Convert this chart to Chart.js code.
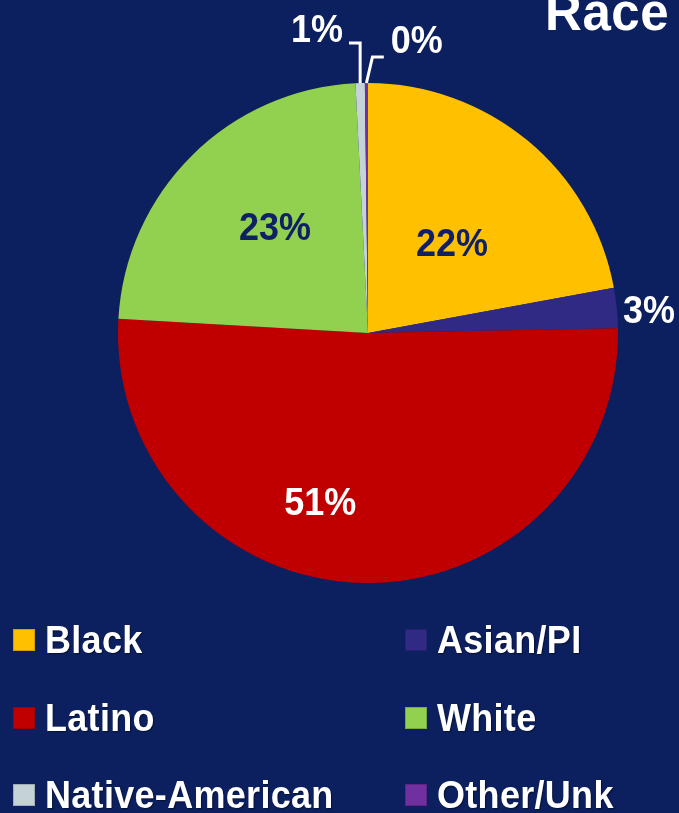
<!DOCTYPE html>
<html>
<head>
<meta charset="utf-8">
<script src="https://cdn.jsdelivr.net/npm/chart.js@4.4.1/dist/chart.umd.min.js"></script>
<style>
  html, body { margin: 0; padding: 0; background: #0c1f5e; overflow: hidden; }
  #wrap { position: relative; width: 679px; height: 813px; }
  #pie { position: absolute; left: 0; top: 0; }
  .title {
    position: absolute; right: 10px; top: -13px;
    font: bold 51px "Liberation Sans", Arial, sans-serif; line-height: 1;
    color: #fff; letter-spacing: 0.5px;
  }
  .key {
    position: absolute; height: 40px; display: flex; align-items: center;
    font: bold 36px "Liberation Sans", Arial, sans-serif; line-height: 1;
    color: #fff; text-shadow: 1px 1px 1px rgba(0,0,0,0.45);
    letter-spacing: 0.3px;
  }
  .key i {
    display: inline-block; width: 22px; height: 22px;
    box-shadow: inset 0 0 0 1px rgba(0,0,0,0.18);
  }
  .key span { margin-left: 10px; display: inline-block; transform: scaleY(1.08); }
</style>
</head>
<body>
<div id="wrap">
  <canvas id="pie" width="679" height="813"></canvas>
  <div class="title">Race</div>
</div>
<script>
// race breakdown, percent of total
const groups = ['Black', 'Asian/PI', 'Latino', 'White', 'Native-American', 'Other/Unk'];
const shares = [22.1, 2.6, 51.2, 23.3, 0.6, 0.2];
const sliceColors = ['#ffc000', '#302a85', '#c00000', '#92d050', '#c5d3d8', '#7030a0'];

const NAVY = '#0f2064';
const WHITE = '#ffffff';

// where each percent label sits: degrees turned past the slice middle,
// distance as a fraction of the outer radius
const labelSpots = [
  { turn: 3.9,  dist: 0.487, color: NAVY },
  { turn: 1.6,  dist: 1.127, color: WHITE },
  { turn: 14.5, dist: 0.712, color: WHITE },
  { turn: 3.0,  dist: 0.558, color: NAVY },
  { turn: -7.8, dist: 1.223, color: WHITE, leader: { dx: 0, dy: 11.5, gap: 6 } },
  { turn: 9.9,  dist: 1.178, color: WHITE, leader: { dx: 6, dy: 14.5, gap: 7 } }
];

const pctLabels = {
  id: 'pctLabels',
  afterDatasetsDraw(chart) {
    const ctx = chart.ctx;
    const arcs = chart.getDatasetMeta(0).data;
    const total = shares.reduce((a, b) => a + b, 0);
    ctx.save();
    ctx.font = 'bold 36px "Liberation Sans", Arial, sans-serif';
    ctx.textAlign = 'center';
    ctx.textBaseline = 'middle';
    arcs.forEach((arc, i) => {
      const spot = labelSpots[i];
      const mid = (arc.startAngle + arc.endAngle) / 2;
      const a = mid + spot.turn * Math.PI / 180;
      const r = arc.outerRadius * spot.dist;
      const x = arc.x + Math.cos(a) * r;
      const y = arc.y + Math.sin(a) * r;
      const text = Math.round(shares[i] / total * 100) + '%';

      if (spot.leader) {
        const L = spot.leader;
        const ex = arc.x + Math.cos(mid) * arc.outerRadius;
        const ey = arc.y + Math.sin(mid) * arc.outerRadius;
        const w = ctx.measureText(text).width;
        const kx = ex + L.dx, ky = y + L.dy;
        const endX = x < ex ? x + w / 2 + L.gap : x - w / 2 - L.gap;
        ctx.beginPath();
        ctx.moveTo(ex, ey);
        ctx.lineTo(kx, ky);
        ctx.lineTo(endX, ky);
        ctx.strokeStyle = WHITE;
        ctx.lineWidth = 3;
        ctx.stroke();
      }

      ctx.save();
      ctx.translate(x, y);
      ctx.scale(1, 1.1);
      ctx.fillStyle = spot.color;
      ctx.fillText(text, 0, 0);
      ctx.restore();
    });
    ctx.restore();
  }
};

new Chart(document.getElementById('pie'), {
  type: 'pie',
  data: {
    labels: groups,
    datasets: [{
      data: shares,
      backgroundColor: sliceColors,
      borderWidth: 0
    }]
  },
  options: {
    responsive: false,
    animation: false,
    layout: { padding: { left: 118, right: 61, top: 83, bottom: 230 } },
    plugins: {
      legend: { display: false },
      tooltip: { enabled: false }
    }
  },
  plugins: [pctLabels]
});

// two-column key under the pie
const keyCols = [13, 405];
const keyRowMid = [640, 718, 795];
const wrap = document.getElementById('wrap');
groups.forEach((name, i) => {
  const el = document.createElement('div');
  el.className = 'key';
  el.style.left = keyCols[i % 2] + 'px';
  el.style.top = (keyRowMid[Math.floor(i / 2)] - 20) + 'px';
  el.innerHTML = '<i style="background:' + sliceColors[i] + '"></i><span>' + name + '</span>';
  wrap.appendChild(el);
});
</script>
</body>
</html>
